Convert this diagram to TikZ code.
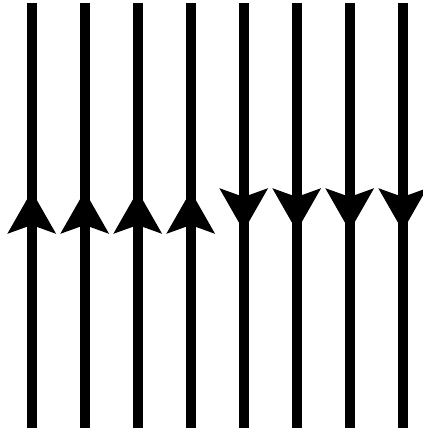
\documentclass[tikz,border=0pt]{standalone}
\usetikzlibrary{arrows.meta}

\begin{document}
\begin{tikzpicture}[
    x=1pt, y=-1pt,
    wire/.style={line width=10pt, line cap=butt, black},
    uptip/.style={wire, -{Stealth[length=42pt, width=47pt, inset=8pt]}},
    >=Stealth
  ]
  \useasboundingbox (0,0) rectangle (423,434);

  %% Upward lines (left half)
  \foreach \i in {0,...,3} {
    \coordinate (top\i) at ({31.7+53*\i},3);
    \coordinate (bot\i) at ({31.7+53*\i},428);
    \coordinate (mid\i) at ({31.7+53*\i},191);
    \draw[wire] (top\i) -- (bot\i);
    \draw[uptip] (bot\i) -- (mid\i);
  }

  %% Downward lines (right half)
  \foreach \i in {4,...,7} {
    \coordinate (top\i) at ({31.7+53*\i},3);
    \coordinate (bot\i) at ({31.7+53*\i},428);
    \coordinate (mid\i) at ({31.7+53*\i},231);
    \draw[wire] (top\i) -- (bot\i);
    \draw[uptip] (top\i) -- (mid\i);
  }

\end{tikzpicture}
\end{document}
